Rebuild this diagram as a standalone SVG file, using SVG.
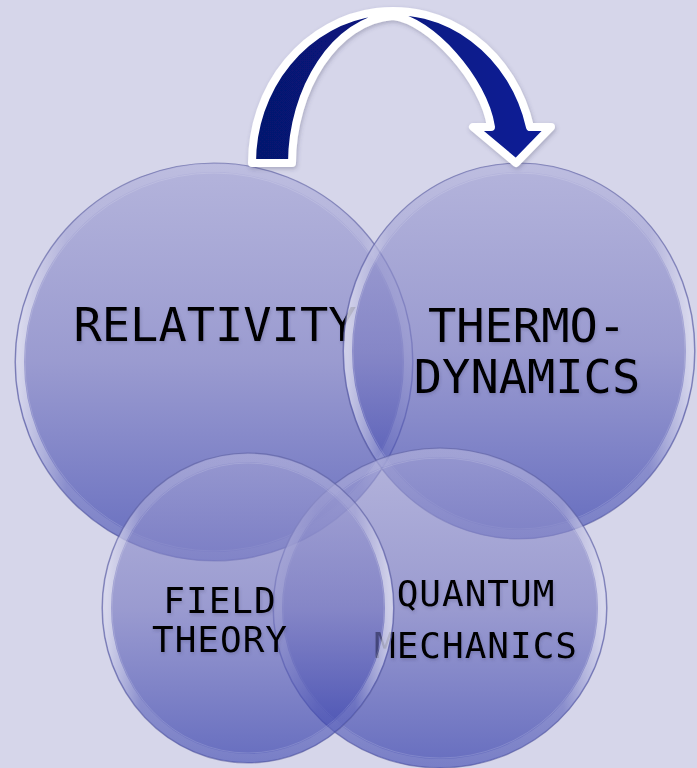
<svg xmlns="http://www.w3.org/2000/svg" width="697" height="768" viewBox="0 0 697 768">
<defs>
<linearGradient id="fillG" x1="0" y1="0" x2="0" y2="1">
<stop offset="0" stop-color="#a2a2d4"/>
<stop offset="0.5" stop-color="#7a7bc2"/>
<stop offset="1" stop-color="#2a35a8"/>
</linearGradient>
<linearGradient id="ringG" x1="0" y1="0" x2="1" y2="0">
<stop offset="0" stop-color="#ffffff" stop-opacity="0.6"/>
<stop offset="0.12" stop-color="#ffffff" stop-opacity="0.12"/>
<stop offset="0.88" stop-color="#ffffff" stop-opacity="0.12"/>
<stop offset="1" stop-color="#ffffff" stop-opacity="0.6"/>
</linearGradient>
<linearGradient id="arrowG" x1="0" y1="0" x2="1" y2="0">
<stop offset="0" stop-color="#06146e"/>
<stop offset="1" stop-color="#0a1e98"/>
</linearGradient>
<filter id="ts" x="-10%" y="-30%" width="120%" height="160%">
<feDropShadow dx="1" dy="2" stdDeviation="1.5" flood-color="#404060" flood-opacity="0.25"/>
</filter>
<filter id="as" x="-10%" y="-10%" width="120%" height="120%">
<feDropShadow dx="1" dy="2" stdDeviation="2" flood-color="#404060" flood-opacity="0.3"/>
</filter>
</defs>
<style>
.disc{fill:url(#fillG);fill-opacity:0.65;stroke:#5a5e9e;stroke-opacity:0.6;stroke-width:1.2}
.ring{fill:none;stroke:url(#ringG);stroke-width:8}
.ring2{fill:none;stroke:#ffffff;stroke-opacity:0.15;stroke-width:1}
.lbl{font-family:"DejaVu Sans Mono","Liberation Mono",monospace;fill:#000;text-anchor:middle;filter:url(#ts)}
.big{font-size:47px}
.small{font-size:36px;letter-spacing:1px}
.arrow{fill:url(#arrowG);stroke:#ffffff;stroke-width:8;stroke-linejoin:round;filter:url(#as)}
</style>
<rect width="697" height="768" fill="#d6d6ea"/>
<g id="relativity">
<ellipse class="disc" cx="214" cy="362" rx="199" ry="199"/>
<ellipse class="ring" cx="214" cy="362" rx="194" ry="194"/>
<ellipse class="ring2" cx="214" cy="362" rx="189" ry="189"/>
<text class="lbl big" x="215" y="341">RELATIVITY</text>
</g>
<g id="thermodynamics">
<ellipse class="disc" cx="519" cy="351" rx="176" ry="188"/>
<ellipse class="ring" cx="519" cy="351" rx="171" ry="183"/>
<ellipse class="ring2" cx="519" cy="351" rx="166" ry="178"/>
<text class="lbl big" x="527" y="342">THERMO-</text>
<text class="lbl big" x="527" y="393">DYNAMICS</text>
</g>
<g id="quantum-mechanics">
<ellipse class="disc" cx="440" cy="608" rx="167" ry="160"/>
<ellipse class="ring" cx="440" cy="608" rx="162" ry="155"/>
<ellipse class="ring2" cx="440" cy="608" rx="157" ry="150"/>
<text class="lbl small" x="476" y="606">QUANTUM</text>
<text class="lbl small" x="476" y="658">MECHANICS</text>
</g>
<g id="field-theory">
<ellipse class="disc" cx="248" cy="608" rx="146" ry="155"/>
<ellipse class="ring" cx="248" cy="608" rx="141" ry="150"/>
<ellipse class="ring2" cx="248" cy="608" rx="136" ry="145"/>
<text class="lbl small" x="220" y="613">FIELD</text>
<text class="lbl small" x="220" y="652">THEORY</text>
</g>
<g id="connectors">
<path class="arrow" d="M252,163 A141,152 0 0 1 530,127 L551,127 L516,163 L473,127 L491,127 C484,80 430,20 393,16 C335,20 292,90 292,163 Z"/>
</g>
</svg>
